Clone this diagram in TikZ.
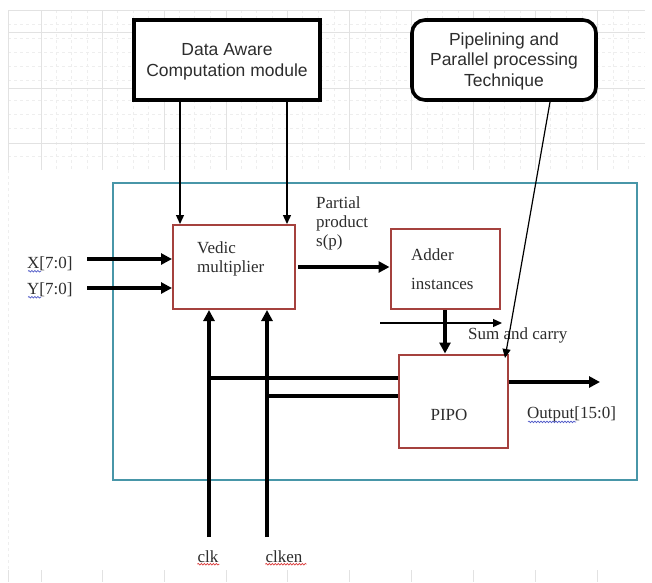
\documentclass[tikz,border=0pt]{standalone}
\usepackage{fontspec}
\setmainfont{Liberation Serif}
\newfontfamily\arialf{Liberation Sans}
\usetikzlibrary{arrows.meta,decorations.pathmorphing}
\definecolor{tealb}{RGB}{72,150,168}
\definecolor{boxred}{RGB}{165,65,62}
\definecolor{gridc}{RGB}{226,226,226}
\definecolor{gridm}{RGB}{238,238,238}
\definecolor{txt}{RGB}{45,45,45}
\definecolor{spellb}{RGB}{80,90,200}
\definecolor{spellr}{RGB}{220,60,60}
\tikzset{
  topbox/.style={draw=black,line width=4pt,fill=white,minimum width=186pt,minimum height=80pt,inner sep=0pt},
  redbox/.style={draw=boxred,line width=2pt,fill=white,inner sep=0pt},
  sanst/.style={font=\arialf\fontsize{17.5}{20.5}\selectfont,text=txt,align=center},
  sert/.style={font=\fontsize{17}{19}\selectfont,text=txt,inner sep=0pt},
  thickarr/.style={line width=3.6pt,-{Triangle[length=11pt,width=11pt]}},
  thickln/.style={line width=3.6pt},
  thinarr/.style={line width=1.3pt,-{Triangle[length=9pt,width=8pt]}},
  squig/.style={decorate,decoration={snake,amplitude=0.8pt,segment length=3pt},line width=0.7pt}
}
\begin{document}
\begin{tikzpicture}[x=1pt,y=-1pt]
\useasboundingbox (0,0) rectangle (652,582);
\fill[white] (0,0) rectangle (652,582);
% background grid
\foreach \yy in {24,38,52,66,80,100,114,128,156} \draw[gridm,line width=0.6pt,dashed] (8,\yy) -- (645,\yy);
\foreach \xx in {56,71,87,117,133,148,179,194,210,241,256,272,302,318,334,365,380,396,427,442,458,489,504,520,550,566,582,613,628} \draw[gridm,line width=0.6pt,dashed] (\xx,10) -- (\xx,170);
\foreach \yy in {10,32,88,143} \draw[gridc,line width=0.8pt] (8,\yy) -- (645,\yy);
\foreach \xx in {8,41,102,164,226,287,349,411,473,535,597} \draw[gridc,line width=0.8pt] (\xx,10) -- (\xx,170);
\foreach \xx in {8,41,102,164,226,287,349,411,473,535,597} \draw[gridc,line width=0.8pt] (\xx,570) -- (\xx,582);
\draw[gridm,line width=0.6pt,dashed] (8,170) -- (8,570);
% outer module
\draw[tealb,line width=2.6pt] (113,183) rectangle (637,480);
% boxes
\node[topbox] (da) at (227,60) {};
\node[sanst] (datxt) at (227,62) {Data Aware\\Computation module};
\node[topbox,rounded corners=13pt,line width=3.6pt,minimum width=184pt] (pp) at (504,60) {};
\node[sanst] (pptxt) at (504,61) {Pipelining and\\Parallel processing\\Technique};
\node[redbox,minimum width=122pt,minimum height=84pt] (vm) at (234,267) {};
\node[sert,anchor=west,align=left] (vmtxt) at (197,259) {Vedic\\multiplier};
\node[redbox,minimum width=109pt,minimum height=80pt] (ad) at (445,269) {};
\node[sert,anchor=west] (adt1) at (411,255) {Adder};
\node[sert,anchor=west] (adt2) at (411,284) {instances};
\node[redbox,minimum width=109pt,minimum height=93pt] (pipo) at (453,401) {};
\node[sert] (pipotxt) at (449,415) {PIPO};
% labels
\node[sert,anchor=west,align=left] (pptext) at (316,223) {Partial\\product\\s(p)};
\node[sert,anchor=west] (xl) at (27,264) {X[7:0]};
\node[sert,anchor=west] (yl) at (27,290) {Y[7:0]};
\node[sert,anchor=west] (sc) at (468,335) {Sum and carry};
\node[sert,anchor=west] (outl) at (527,414) {Output[15:0]};
\node[sert] (clkl) at (208,557) {clk};
\node[sert] (clkenl) at (284,557) {clken};
% spell-check underlines
\draw[squig,spellb] (xl.south west) ++(1,0) -- ++(13,0);
\draw[squig,spellb] (yl.south west) ++(1,0) -- ++(13,0);
\draw[squig,spellb] (outl.south west) ++(1,0) -- ++(48,0);
\draw[squig,spellr] (clkl.south west) ++(0,1) -- ++(22,0);
\draw[squig,spellr] (clkenl.south west) ++(0,1) -- ++(41,0);
% coordinates
\coordinate (xa) at (87,259);
\coordinate (ya) at (87,288);
\coordinate (d1) at (180,0);
\coordinate (d2) at (287,0);
\coordinate (pps) at (550,102);
\coordinate (ppe) at (505,358);
\coordinate (s1) at (380,323);
\coordinate (s2) at (502,323);
\coordinate (outend) at (600,382);
\coordinate (clkb) at (209,537);
\coordinate (clkenb) at (267,537);
\coordinate (h1) at (0,378);
\coordinate (h2) at (0,396);
% connectors
\draw[thinarr] (d1 |- da.south) -- (d1 |- vm.north);
\draw[thinarr] (d2 |- da.south) -- (d2 |- vm.north);
\draw[line width=1.2pt,-{Triangle[length=9pt,width=8pt]}] (pps) -- (ppe);
\draw[thickarr] (xa) -- (xa -| vm.west);
\draw[thickarr] (ya) -- (ya -| vm.west);
\draw[thickarr] ([xshift=2pt]vm.east) -- (vm.east -| ad.west);
\draw[thickarr] (ad.south) -- (ad.south |- pipo.north);
\draw[thinarr] (s1) -- (s2);
\draw[thickarr] (outend -| pipo.east) -- (outend);
\draw[thickarr] (clkb) -- (clkb |- vm.south);
\draw[thickarr] (clkenb) -- (clkenb |- vm.south);
\draw[thickln] (clkb |- h1) -- (h1 -| pipo.west);
\draw[thickln] (clkenb |- h2) -- (h2 -| pipo.west);
\end{tikzpicture}
\end{document}
